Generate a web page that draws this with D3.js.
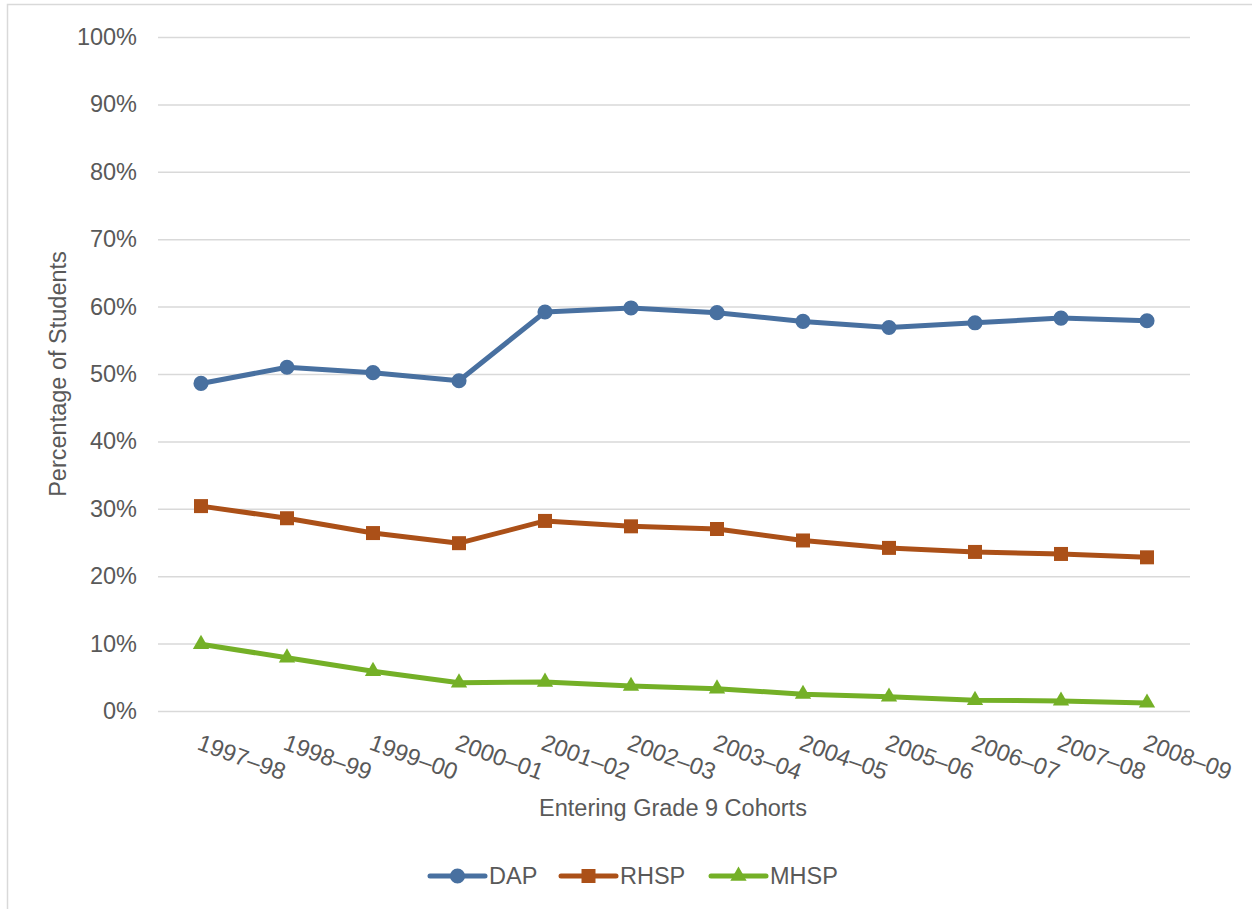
<!DOCTYPE html>
<html>
<head>
<meta charset="utf-8">
<script src="https://cdn.jsdelivr.net/npm/d3@7"></script>
<style>
  html, body { margin: 0; padding: 0; background: #fff; }
  svg { display: block; font-family: "Liberation Sans", Arial, sans-serif; }
</style>
</head>
<body>
<svg id="chart" width="1252" height="909"></svg>
<script>
// Entering grade 9 cohorts
const cohorts = ["1997–98","1998–99","1999–00","2000–01","2001–02","2002–03",
                 "2003–04","2004–05","2005–06","2006–07","2007–08","2008–09"];

// Share of students by graduation program (%)
const dap  = [48.6, 51.0, 50.2, 49.0, 59.2, 59.8, 59.1, 57.8, 56.9, 57.6, 58.3, 57.9];
const rhsp = [30.4, 28.6, 26.4, 24.9, 28.2, 27.4, 27.0, 25.3, 24.2, 23.6, 23.3, 22.8];
const mhsp = [ 9.9,  7.9,  5.9,  4.2,  4.3,  3.7,  3.3,  2.5,  2.1,  1.6,  1.5,  1.2];

const yTicks = [0, 10, 20, 30, 40, 50, 60, 70, 80, 90, 100];

const series = [
  { name: "DAP",  values: dap,  color: "#4870a0", symbol: d3.symbolCircle,   size: 180 },
  { name: "RHSP", values: rhsp, color: "#ab5018", symbol: d3.symbolSquare,   size: 196 },
  { name: "MHSP", values: mhsp, color: "#74b027", symbol: d3.symbolTriangle, size: 115 }
];

const svg = d3.select("#chart");
const textColor = "#595959";
const fontSize = "23.5px";

// outer frame
svg.append("rect")
  .attr("x", 7.5).attr("y", 4.5)
  .attr("width", 1260).attr("height", 920)
  .attr("fill", "none").attr("stroke", "#d9d9d9").attr("stroke-width", 1.5);

const plot = { left: 158, right: 1190, top: 37, bottom: 711 };

const x = d3.scaleBand().domain(cohorts).range([plot.left, plot.right]);
const y = d3.scaleLinear().domain([0, 100]).range([plot.bottom, plot.top]);

// horizontal gridlines + y labels
const yAxis = d3.axisLeft(y)
  .tickValues(yTicks)
  .tickSize(-(plot.right - plot.left))
  .tickPadding(21)
  .tickFormat(d => d + "%");

const gy = svg.append("g")
  .attr("transform", `translate(${plot.left},0)`)
  .call(yAxis);
gy.select(".domain").remove();
gy.selectAll(".tick line").attr("stroke", "#d9d9d9").attr("stroke-width", 1.5);
gy.selectAll(".tick text")
  .attr("fill", textColor)
  .style("font-size", fontSize);

// x labels, rotated
const gx = svg.append("g");
gx.selectAll("text")
  .data(cohorts)
  .join("text")
  .attr("transform", d => `translate(${x(d) + x.bandwidth() / 2 - 5},${plot.bottom + 38}) rotate(20)`)
  .attr("text-anchor", "start")
  .attr("fill", textColor)
  .style("font-size", fontSize)
  .text(d => d);

// axis titles
svg.append("text")
  .attr("transform", `translate(66,${(plot.top + plot.bottom) / 2}) rotate(-90)`)
  .attr("text-anchor", "middle")
  .attr("fill", textColor)
  .style("font-size", fontSize)
  .text("Percentage of Students");

svg.append("text")
  .attr("x", 673).attr("y", 816)
  .attr("text-anchor", "middle")
  .attr("fill", textColor)
  .style("font-size", fontSize)
  .text("Entering Grade 9 Cohorts");

// series lines and markers
const line = d3.line()
  .x((d, i) => x(cohorts[i]) + x.bandwidth() / 2)
  .y(d => y(d));

series.forEach(s => {
  const g = svg.append("g");
  g.append("path")
    .attr("d", line(s.values))
    .attr("fill", "none")
    .attr("stroke", s.color)
    .attr("stroke-width", 5)
    .attr("stroke-linejoin", "round")
    .attr("stroke-linecap", "round");
  g.selectAll("path.mark")
    .data(s.values)
    .join("path")
    .attr("class", "mark")
    .attr("transform", (d, i) => `translate(${x(cohorts[i]) + x.bandwidth() / 2},${y(d)})`)
    .attr("d", d3.symbol().type(s.symbol).size(s.size))
    .attr("fill", s.color);
});

// legend
const legendX = [430, 561, 711];
const legendY = 876;
series.forEach((s, i) => {
  const g = svg.append("g").attr("transform", `translate(${legendX[i]},${legendY})`);
  g.append("line")
    .attr("x1", 0).attr("x2", 55).attr("y1", 0).attr("y2", 0)
    .attr("stroke", s.color).attr("stroke-width", 5).attr("stroke-linecap", "round");
  g.append("path")
    .attr("transform", "translate(27.5,0)")
    .attr("d", d3.symbol().type(s.symbol).size(s.size))
    .attr("fill", s.color);
  g.append("text")
    .attr("x", 59).attr("y", 0).attr("dy", "0.36em")
    .attr("fill", textColor)
    .style("font-size", fontSize)
    .text(s.name);
});
</script>
</body>
</html>
